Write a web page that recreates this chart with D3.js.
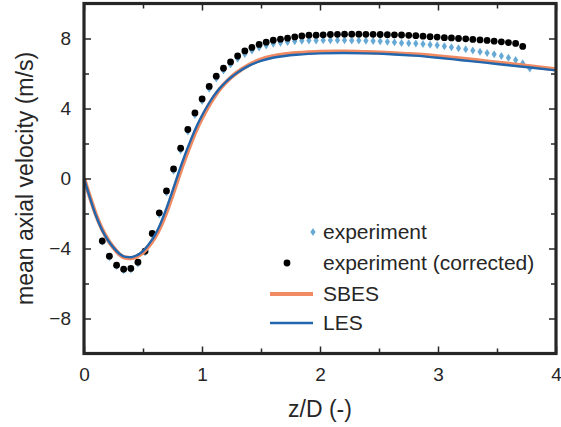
<!DOCTYPE html>
<html><head><meta charset="utf-8">
<script src="https://cdn.jsdelivr.net/npm/d3@7"></script>
<style>body{margin:0;background:#fff}svg{display:block}text{font-family:"Liberation Sans",Arial,sans-serif;fill:#262626}</style>
</head><body><svg id="c" width="561" height="427"></svg>
<script>
// experiment positions (z/D)
const expZ = [0.155,0.215,0.276,0.336,0.397,0.457,0.517,0.578,0.638,0.699,0.759,0.819,0.880,0.940,1.001,1.061,1.121,1.182,1.242,1.302,1.363,1.423,1.484,1.544,1.604,1.665,1.725,1.786,1.846,1.906,1.967,2.027,2.088,2.148,2.208,2.269,2.329,2.389,2.450,2.510,2.571,2.631,2.691,2.752,2.812,2.873,2.933,2.993,3.054,3.114,3.174,3.235,3.295,3.356,3.416,3.476,3.537,3.597,3.658,3.718,3.778];
const expV = [-3.62,-4.50,-5.00,-5.24,-5.20,-4.85,-4.22,-3.22,-2.06,-0.80,0.45,1.62,2.68,3.63,4.43,5.13,5.72,6.17,6.52,6.85,7.12,7.32,7.48,7.60,7.70,7.76,7.80,7.84,7.87,7.88,7.89,7.90,7.90,7.90,7.90,7.89,7.88,7.87,7.86,7.84,7.82,7.79,7.75,7.73,7.71,7.68,7.64,7.61,7.56,7.50,7.45,7.38,7.31,7.24,7.17,7.10,7.00,6.90,6.77,6.58,6.28];
const corrZ = expZ.slice(0, 60);
const corrV = [-3.57,-4.44,-4.95,-5.18,-5.14,-4.78,-4.15,-3.14,-1.96,-0.71,0.55,1.73,2.80,3.75,4.55,5.26,5.85,6.30,6.66,7.00,7.29,7.49,7.66,7.79,7.90,7.96,8.02,8.09,8.15,8.19,8.19,8.21,8.23,8.24,8.25,8.25,8.25,8.24,8.24,8.23,8.22,8.21,8.20,8.18,8.16,8.13,8.10,8.08,8.05,8.03,8.00,7.98,7.95,7.92,7.89,7.85,7.81,7.77,7.72,7.55];
// simulations
const simZ = [0,0.05,0.1,0.15,0.2,0.25,0.3,0.35,0.4,0.45,0.5,0.55,0.6,0.65,0.7,0.75,0.8,0.85,0.9,0.95,1.0,1.05,1.1,1.15,1.2,1.25,1.3,1.4,1.5,1.6,1.7,1.8,1.9,2.0,2.2,2.4,2.6,2.8,3.0,3.2,3.4,3.6,3.8,4.0];
const lesV = [0,-1.10,-2.10,-2.90,-3.50,-3.95,-4.30,-4.48,-4.50,-4.38,-4.15,-3.75,-3.25,-2.55,-1.68,-0.71,0.30,1.25,2.12,2.92,3.60,4.20,4.72,5.15,5.50,5.80,6.05,6.45,6.72,6.90,7.00,7.07,7.12,7.15,7.17,7.15,7.10,7.02,6.90,6.76,6.62,6.47,6.33,6.18];
const sbesV = [0,-1.05,-2.05,-2.85,-3.48,-3.95,-4.33,-4.52,-4.55,-4.45,-4.22,-3.85,-3.37,-2.72,-1.90,-0.95,0.05,1.02,1.92,2.75,3.45,4.08,4.63,5.10,5.48,5.80,6.07,6.50,6.80,6.98,7.09,7.16,7.21,7.24,7.25,7.22,7.17,7.09,6.98,6.85,6.70,6.55,6.40,6.24];
const xTicks = [0,1,2,3,4];
const yTicks = [-8,-4,0,4,8];
const xMinor = [0.5,1.5,2.5,3.5];
const yMinor = [-6,-2,2,6];
const legendLabels = ["experiment","experiment (corrected)","SBES","LES"];

const svg = d3.select("#c");
const L=84, R=556, T=3.5, B=353.5;
const x = d3.scaleLinear().domain([0,4]).range([L,R]);
const y = d3.scaleLinear().domain([-10,10]).range([B,T]);
const ink = "#262626";
const cExp = "#67a9d5", cDot = "#000", cSB = "#ef8a62", cLES = "#2266ad";
const fTick = 19, fLab = 23, fLeg = 21;

const clip = svg.append("defs").append("clipPath").attr("id","pa");
clip.append("rect").attr("x",L).attr("y",T).attr("width",R-L).attr("height",B-T);
const g = svg.append("g").attr("clip-path","url(#pa)");

const diamond = (cx,cy)=>`M${cx},${cy-4}L${cx+2.6},${cy}L${cx},${cy+4}L${cx-2.6},${cy}Z`;
g.selectAll("path.exp").data(expZ).join("path").attr("class","exp")
 .attr("d",(d,i)=>diamond(x(d),y(expV[i]))).attr("fill",cExp);
g.selectAll("circle.cor").data(corrZ).join("circle").attr("class","cor")
 .attr("cx",d=>x(d)).attr("cy",(d,i)=>y(corrV[i])).attr("r",3.4).attr("fill",cDot);
const line = d3.line().curve(d3.curveMonotoneX);
g.append("path").attr("d",line(simZ.map((z,i)=>[x(z),y(sbesV[i])]))).attr("fill","none").attr("stroke",cSB).attr("stroke-width",4.2);
g.append("path").attr("d",line(simZ.map((z,i)=>[x(z),y(lesV[i])]))).attr("fill","none").attr("stroke",cLES).attr("stroke-width",2.4);

// axes
const ax = svg.append("g");
const xAxB = d3.axisBottom(x).tickValues(xTicks).tickSize(-7).tickPadding(14).tickFormat(d3.format("d"));
const xAxT = d3.axisTop(x).tickValues(xTicks).tickSize(-7).tickFormat("");
const yAxL = d3.axisLeft(y).tickValues(yTicks).tickSize(-7).tickPadding(13).tickFormat(d=>d<0?"\u2212"+Math.abs(d):d);
const yAxR = d3.axisRight(y).tickValues(yTicks).tickSize(-7).tickFormat("");
function style(sel){sel.select(".domain").remove();sel.selectAll(".tick line").attr("stroke",ink).attr("stroke-width",1.5);sel.selectAll("text").attr("font-size",fTick).attr("fill",ink).style("font-family","'Liberation Sans',Arial,sans-serif");}
ax.append("g").attr("transform",`translate(0,${B})`).call(xAxB).call(style);
ax.append("g").attr("transform",`translate(0,${T})`).call(xAxT).call(style);
ax.append("g").attr("transform",`translate(${L},0)`).call(yAxL).call(style);
ax.append("g").attr("transform",`translate(${R},0)`).call(yAxR).call(style);
const mx = d3.axisBottom(x).tickValues(xMinor).tickSize(-5).tickFormat("");
ax.append("g").attr("transform",`translate(0,${B})`).call(mx).call(style);
ax.append("g").attr("transform",`translate(0,${T})`).call(d3.axisTop(x).tickValues(xMinor).tickSize(-5).tickFormat("")).call(style);
ax.append("g").attr("transform",`translate(${L},0)`).call(d3.axisLeft(y).tickValues(yMinor).tickSize(-5).tickFormat("")).call(style);
ax.append("g").attr("transform",`translate(${R},0)`).call(d3.axisRight(y).tickValues(yMinor).tickSize(-5).tickFormat("")).call(style);
svg.append("rect").attr("x",L).attr("y",T).attr("width",R-L).attr("height",B-T).attr("fill","none").attr("stroke",ink).attr("stroke-width",3.2);

svg.append("text").attr("x",(L+R)/2).attr("y",417).attr("text-anchor","middle").attr("font-size",fLab).text("z/D (-)");
svg.append("text").attr("transform",`translate(33,${(T+B)/2}) rotate(-90)`).attr("text-anchor","middle").attr("font-size",fLab).text("mean axial velocity (m/s)");

// legend
const lg = svg.append("g");
const rowsY = [232,263,294,323];
const tx = 323;
lg.append("path").attr("d",diamond(313,rowsY[0])).attr("fill",cExp);
lg.append("circle").attr("cx",287).attr("cy",rowsY[1]).attr("r",3.4).attr("fill",cDot);
lg.append("line").attr("x1",270).attr("x2",313).attr("y1",rowsY[2]).attr("y2",rowsY[2]).attr("stroke",cSB).attr("stroke-width",4.2);
lg.append("line").attr("x1",270).attr("x2",313).attr("y1",rowsY[3]).attr("y2",rowsY[3]).attr("stroke",cLES).attr("stroke-width",2.4);
legendLabels.forEach((t,i)=>lg.append("text").attr("x",tx).attr("y",rowsY[i]+7).attr("font-size",fLeg).text(t));
</script></body></html>
